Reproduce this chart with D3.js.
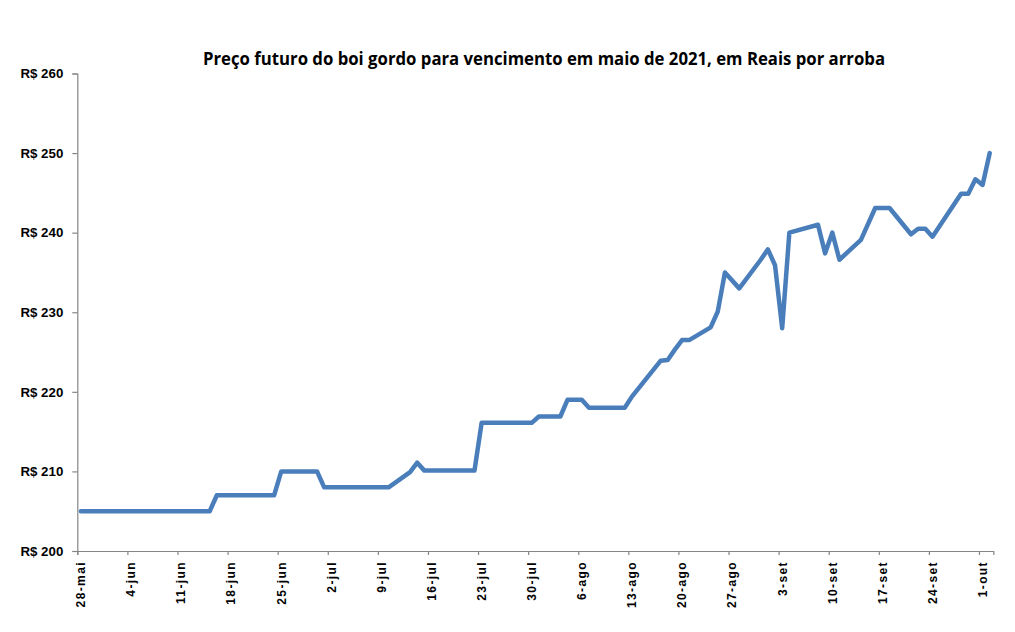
<!DOCTYPE html>
<html>
<head>
<meta charset="utf-8">
<script src="https://cdn.jsdelivr.net/npm/d3@7"></script>
<style>
  html, body { margin: 0; padding: 0; background: #ffffff; }
  svg { display: block; }
</style>
</head>
<body>
<svg id="chart" width="1015" height="632"></svg>
<script>
// ---- DATA ----
const title = "Preço futuro do boi gordo para vencimento em maio de 2021, em Reais por arroba";

const dates = [
  "2020-05-28","2020-06-15","2020-06-16","2020-06-24","2020-06-25","2020-06-30",
  "2020-07-01","2020-07-10","2020-07-13","2020-07-14","2020-07-15","2020-07-22",
  "2020-07-23","2020-07-30","2020-07-31","2020-08-03","2020-08-04","2020-08-06",
  "2020-08-07","2020-08-12","2020-08-13","2020-08-17","2020-08-18","2020-08-19",
  "2020-08-20","2020-08-21","2020-08-24","2020-08-25","2020-08-26","2020-08-28",
  "2020-08-31","2020-09-01","2020-09-02","2020-09-03","2020-09-04","2020-09-08",
  "2020-09-09","2020-09-10","2020-09-11","2020-09-14","2020-09-16","2020-09-18",
  "2020-09-21","2020-09-22","2020-09-23","2020-09-24","2020-09-28","2020-09-29",
  "2020-09-30","2020-10-01","2020-10-02"
];
const prices = [
  205, 205, 207, 207, 210, 210,
  208, 208, 209.9, 211.1, 210.1, 210.1,
  216.1, 216.1, 216.9, 216.9, 219, 219,
  218, 218, 219.4, 223.9, 224, 225.3,
  226.5, 226.5, 228.1, 230.1, 235, 233,
  236.6, 237.9, 235.9, 228, 240, 241,
  237.4, 240, 236.6, 239.1, 243.1, 243.1,
  239.8, 240.5, 240.5, 239.5, 244.9, 244.9,
  246.7, 246, 250
];

const yTicks = [200, 210, 220, 230, 240, 250, 260];
const yTickLabels = ["R$ 200","R$ 210","R$ 220","R$ 230","R$ 240","R$ 250","R$ 260"];

const xTickDates = [
  "2020-05-28","2020-06-04","2020-06-11","2020-06-18","2020-06-25","2020-07-02",
  "2020-07-09","2020-07-16","2020-07-23","2020-07-30","2020-08-06","2020-08-13",
  "2020-08-20","2020-08-27","2020-09-03","2020-09-10","2020-09-17","2020-09-24",
  "2020-10-01"
];
const xTickLabels = [
  "28-mai","4-jun","11-jun","18-jun","25-jun","2-jul","9-jul","16-jul","23-jul",
  "30-jul","6-ago","13-ago","20-ago","27-ago","3-set","10-set","17-set","24-set","1-out"
];
const xDomain = ["2020-05-28", "2020-10-03"];

// ---- CHART ----
const parse = d3.timeParse("%Y-%m-%d");
const svg = d3.select("#chart");

const plot = { left: 77.3, right: 993.3, top: 73.5, bottom: 551 };

const x = d3.scaleTime()
  .domain(xDomain.map(parse))
  .range([plot.left, plot.right]);

const y = d3.scaleLinear()
  .domain([200, 260])
  .range([plot.bottom, plot.top]);

const halfDay = 12 * 3600 * 1000;
const mid = d => new Date(d.getTime() + halfDay);

const axisColor = "#868686";

// Title
svg.append("text")
  .attr("x", 544)
  .attr("y", 65)
  .attr("text-anchor", "middle")
  .attr("font-family", "'Liberation Sans Narrow', 'Open Sans', sans-serif")
  .attr("font-weight", "bold")
  .attr("font-size", 18)
  .attr("textLength", 682)
  .attr("lengthAdjust", "spacingAndGlyphs")
  .attr("fill", "#000")
  .text(title);

// Y axis
const yAxis = d3.axisLeft(y)
  .tickValues(yTicks)
  .tickSize(5)
  .tickPadding(9)
  .tickFormat((d, i) => yTickLabels[i]);

const gy = svg.append("g")
  .attr("transform", `translate(${plot.left},0)`)
  .call(yAxis);
gy.select(".domain").attr("stroke", axisColor).attr("stroke-width", 1.2);
gy.selectAll(".tick line").attr("stroke", axisColor).attr("stroke-width", 1.2);
gy.selectAll(".tick text")
  .attr("font-family", "'Liberation Sans', Arial, sans-serif")
  .attr("font-weight", "bold")
  .attr("font-size", 13.3)
  .attr("fill", "#000");

// X axis: tick marks at date boundaries
const xTickVals = xTickDates.map(parse);
const xAxisTicks = d3.axisBottom(x)
  .tickValues(xTickVals)
  .tickSize(4)
  .tickSizeOuter(4)
  .tickFormat("");
const gx = svg.append("g")
  .attr("transform", `translate(0,${plot.bottom})`)
  .call(xAxisTicks);
gx.select(".domain").attr("stroke", axisColor).attr("stroke-width", 1.2);
gx.selectAll(".tick line").attr("stroke", axisColor).attr("stroke-width", 1.2);

// X labels: centered on each day, rotated
const gxl = svg.append("g")
  .attr("transform", `translate(0,${plot.bottom})`);
gxl.selectAll("text")
  .data(xTickVals)
  .join("text")
  .attr("transform", d => `translate(${x(mid(d))},0) rotate(-90)`)
  .attr("x", -10)
  .attr("y", 0)
  .attr("dy", "0.36em")
  .attr("text-anchor", "end")
  .attr("font-family", "'Liberation Sans', Arial, sans-serif")
  .attr("font-weight", "bold")
  .attr("font-size", 12)
  .attr("letter-spacing", 1.4)
  .attr("fill", "#000")
  .text((d, i) => xTickLabels[i]);

// Line
const data = dates.map((d, i) => ({ date: mid(parse(d)), value: prices[i] }));
const line = d3.line()
  .x(d => x(d.date))
  .y(d => y(d.value));

svg.append("path")
  .datum(data)
  .attr("fill", "none")
  .attr("stroke", "#4A7EBB")
  .attr("stroke-width", 4.5)
  .attr("stroke-linejoin", "round")
  .attr("stroke-linecap", "round")
  .attr("d", line);
</script>
</body>
</html>
